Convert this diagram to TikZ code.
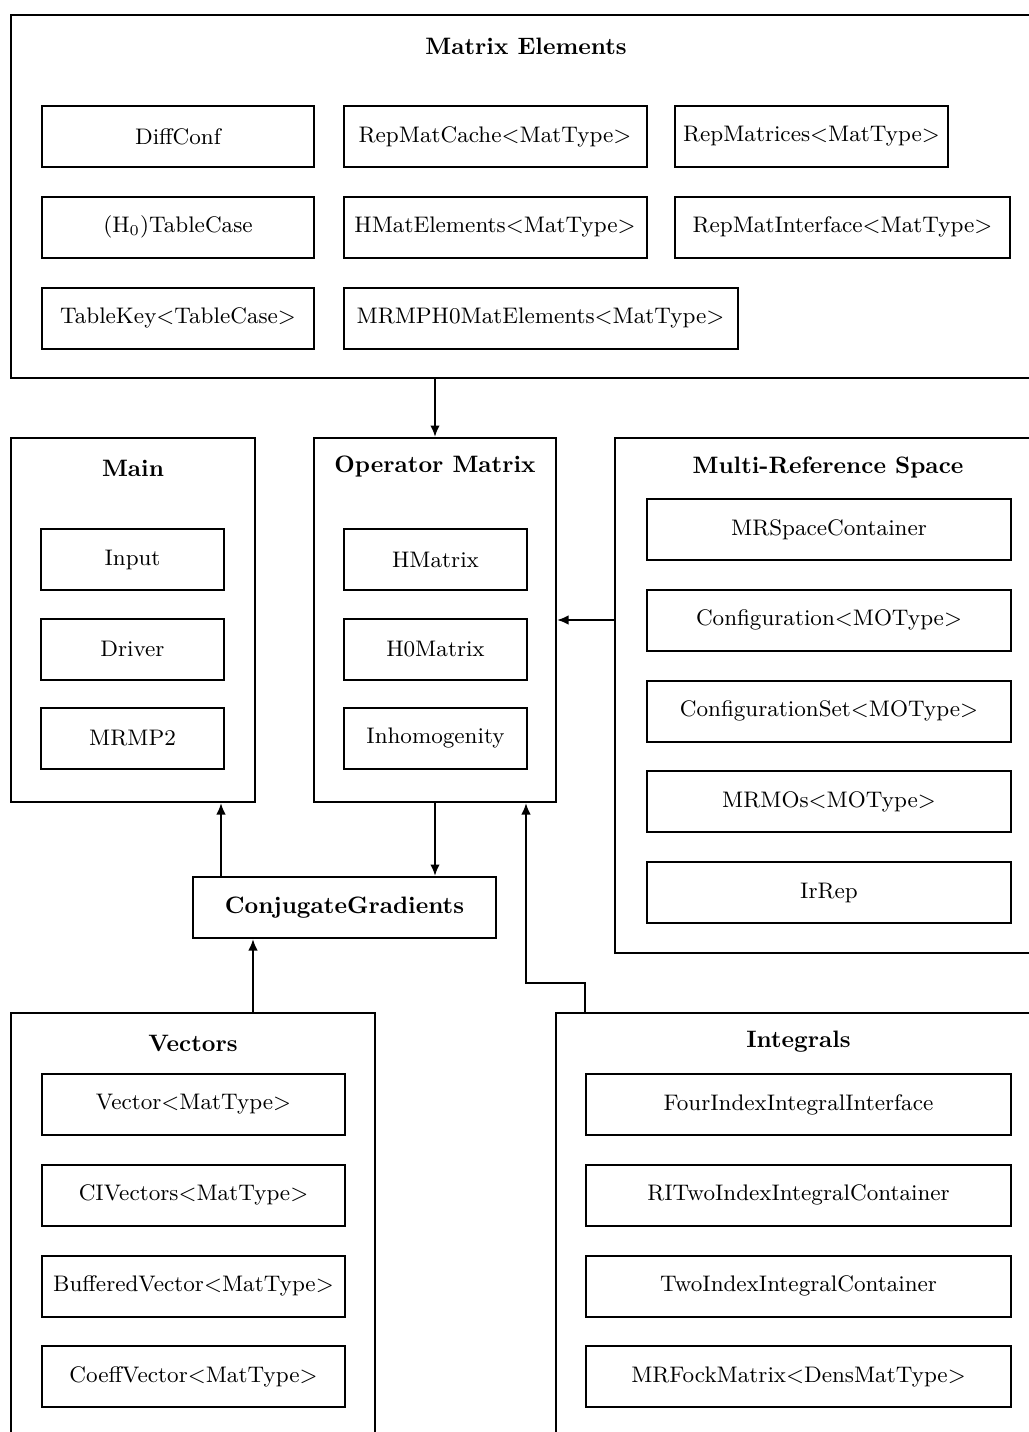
\documentclass[tikz,border=0pt]{standalone}
\usepackage{tikz}
\usetikzlibrary{arrows.meta, positioning, calc}
\tikzset{
  groupbox/.style={rectangle, draw=black, line width=0.8pt, anchor=north west, inner sep=0pt},
  grouptitle/.style={font=\fontsize{9.5pt}{11pt}\selectfont\bfseries, anchor=center},
  classbox/.style={rectangle, draw=black, line width=0.8pt, minimum height=24.4pt,
    inner sep=0pt, align=center, font=\fontsize{9pt}{11pt}\selectfont},
  usebox/.style={-{Latex[length=4.6pt,width=3.8pt]}, line width=0.8pt}
}

\begin{document}
\begin{tikzpicture}[node distance=11.1pt and 11pt]
  \useasboundingbox (0,0) rectangle (411.6pt,-572.8pt);
  \clip (0,0) rectangle (411.6pt,-572.8pt);

  % matrix elements
  \node[groupbox, minimum width=412pt, minimum height=145.2pt] (me) at (4pt,-5.6pt) {};
  \node[grouptitle] at ([yshift=-12.8pt]me.north) {Matrix Elements};
  \node[classbox, minimum width=108.8pt, anchor=north west] (diffconf) at (16.4pt,-42pt) {DiffConf};
  \node[classbox, minimum width=121.2pt, right=of diffconf] (repcache) {RepMatCache<MatType>};
  \node[classbox, minimum width=109.2pt, right=10.6pt of repcache] (repmats) {RepMatrices<MatType>};
  \node[classbox, minimum width=108.8pt, below=of diffconf] (tablecase) {(H$_0$)TableCase};
  \node[classbox, minimum width=121.2pt, right=of tablecase] (hmatel) {HMatElements<MatType>};
  \node[classbox, minimum width=134pt, right=10.6pt of hmatel] (repiface) {RepMatInterface<MatType>};
  \node[classbox, minimum width=108.8pt, below=of tablecase] (tablekey) {TableKey<TableCase>};
  \node[classbox, minimum width=157.6pt, right=of tablekey] (mrmph0) {MRMPH0MatElements<MatType>};

  % main
  \node[groupbox, minimum width=97.6pt, minimum height=145.6pt] (main) at (4pt,-174.8pt) {};
  \node[grouptitle] at ([yshift=-12.4pt]main.north) {Main};
  \node[classbox, minimum width=73.2pt, anchor=north west] (input) at (16pt,-211.2pt) {Input};
  \node[classbox, minimum width=73.2pt, below=10.6pt of input] (driver) {Driver};
  \node[classbox, minimum width=73.2pt, below=10.6pt of driver] (mrmp2) {MRMP2};

  % operator matrix
  \node[groupbox, minimum width=96.8pt, minimum height=145.6pt] (om) at (125.2pt,-174.8pt) {};
  \node[grouptitle] at ([yshift=-12pt]om.north) {Operator Matrix};
  \node[classbox, minimum width=73.2pt, anchor=north west] (hmatrix) at (137.2pt,-211.2pt) {HMatrix};
  \node[classbox, minimum width=73.2pt, below=10.6pt of hmatrix] (h0matrix) {H0Matrix};
  \node[classbox, minimum width=73.2pt, below=10.6pt of h0matrix] (inhom) {Inhomogenity};

  % multi-reference space
  \node[groupbox, minimum width=170.4pt, minimum height=206pt] (mrs) at (245.6pt,-174.8pt) {};
  \node[grouptitle] at ([yshift=-12pt]mrs.north) {Multi-Reference Space};
  \node[classbox, minimum width=145.6pt, anchor=north west] (mrscont) at (258.4pt,-199.2pt) {MRSpaceContainer};
  \node[classbox, minimum width=145.6pt, below=of mrscont] (config) {Configuration<MOType>};
  \node[classbox, minimum width=145.6pt, below=of config] (configset) {ConfigurationSet<MOType>};
  \node[classbox, minimum width=145.6pt, below=of configset] (mrmos) {MRMOs<MOType>};
  \node[classbox, minimum width=145.6pt, below=of mrmos] (irrep) {IrRep};

  % solver
  \node[classbox, minimum width=121.2pt, anchor=north west, font=\fontsize{9.5pt}{11pt}\selectfont\bfseries]
        (cg) at (76.8pt,-350.4pt) {ConjugateGradients};

  % vectors
  \node[groupbox, minimum width=145.6pt, minimum height=179.2pt] (vec) at (4pt,-404.8pt) {};
  \node[grouptitle] at ([yshift=-12.4pt]vec.north) {Vectors};
  \node[classbox, minimum width=121.2pt, anchor=north west] (vector) at (16.4pt,-429.2pt) {Vector<MatType>};
  \node[classbox, minimum width=121.2pt, below=of vector] (civec) {CIVectors<MatType>};
  \node[classbox, minimum width=121.2pt, below=of civec] (bufvec) {BufferedVector<MatType>};
  \node[classbox, minimum width=121.2pt, below=of bufvec] (coeffvec) {CoeffVector<MatType>};

  % integrals
  \node[groupbox, minimum width=194pt, minimum height=179.2pt] (integ) at (222pt,-404.8pt) {};
  \node[grouptitle] at ([yshift=-12pt]integ.north) {Integrals};
  \node[classbox, minimum width=170pt, anchor=north west] (fourint) at (234pt,-429.2pt) {FourIndexIntegralInterface};
  \node[classbox, minimum width=170pt, below=of fourint] (ritwoint) {RITwoIndexIntegralContainer};
  \node[classbox, minimum width=170pt, below=of ritwoint] (twoint) {TwoIndexIntegralContainer};
  \node[classbox, minimum width=170pt, below=of twoint] (fock) {MRFockMatrix<DensMatType>};

  % dependencies
  \coordinate (cgleft) at ([xshift=11.6pt]cg.north west);
  \coordinate (vecup) at ([xshift=24.4pt]cg.south west);
  \coordinate (intup) at ([xshift=12pt]integ.north west);
  \coordinate (omin) at ([xshift=-12.4pt]om.south east);
  \draw[usebox] (me.south -| om.north) -- (om.north);
  \draw[usebox] (mrs.west |- om) -- (om.east);
  \draw[usebox] (om.south) -- (om.south |- cg.north);
  \draw[usebox] (cgleft) -- (cgleft |- main.south);
  \draw[usebox] (vecup |- vec.north) -- (vecup);
  \draw[usebox] (intup) -- ++(0,11.6pt) -| (omin);
\end{tikzpicture}
\end{document}
